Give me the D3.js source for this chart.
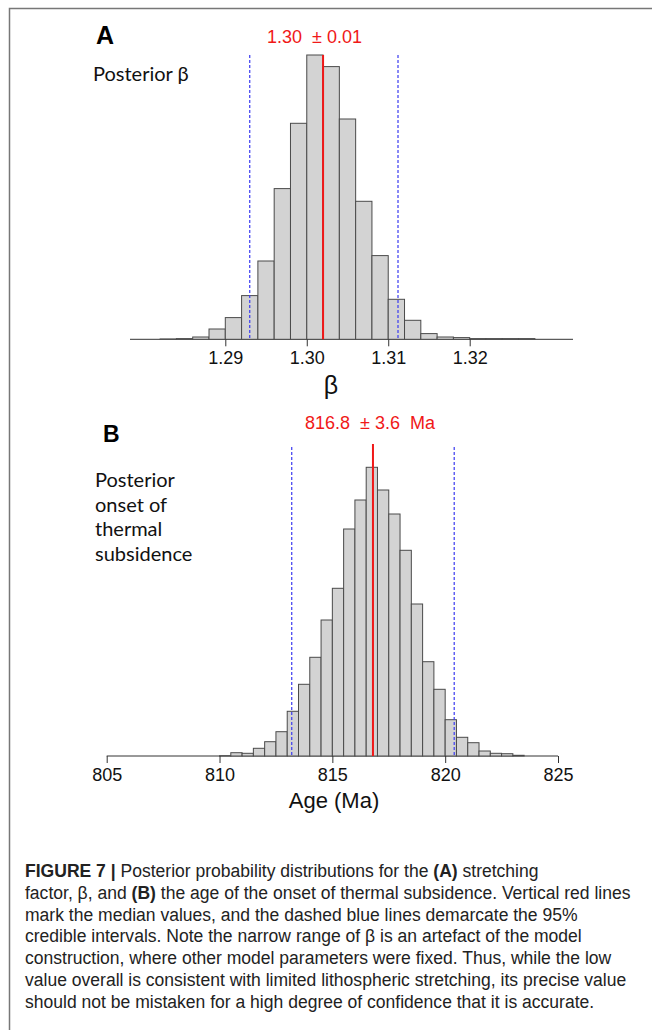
<!DOCTYPE html>
<html><head><meta charset="utf-8">
<script src="https://cdn.jsdelivr.net/npm/d3@7"></script>
<style>html,body{margin:0;padding:0;background:#fff}svg{display:block}</style>
</head><body>
<script>
// ---------- DATA ----------
// Panel A: posterior of stretching factor beta (bin start, width 0.002)
const betaBinStart = [1.282,1.284,1.286,1.288,1.290,1.292,1.294,1.296,1.298,1.300,1.302,1.304,1.306,1.308,1.310,1.312,1.314,1.316,1.318,1.320,1.322,1.324,1.326];
const betaCounts   = [3,7,23,103,217,437,783,1507,2160,2843,2727,2203,1380,837,400,190,57,23,17,7,7,7,7];
const betaBinWidth = 0.002;
const betaTicks = [1.29,1.30,1.31,1.32];
const betaMedian = 1.302;
const betaCI = [1.293,1.3112];
const betaTitle = "1.30  \u00B1 0.01";

// Panel B: posterior onset of thermal subsidence (Ma), bin width 0.5
const ageBinStart = [810.0,810.5,811.0,811.5,812.0,812.5,813.0,813.5,814.0,814.5,815.0,815.5,816.0,816.5,817.0,817.5,818.0,818.5,819.0,819.5,820.0,820.5,821.0,821.5,822.0,822.5,823.0];
const ageCounts   = [3,33,27,77,143,243,447,717,987,1360,1677,2270,2560,2887,2660,2420,2057,1520,943,667,363,187,133,50,27,23,7];
const ageBinWidth = 0.5;
const ageTicks = [805,810,815,820,825];
const ageMedian = 816.8;
const ageCI = [813.2,820.4];
const ageTitle = "816.8  \u00B1 3.6  Ma";

const captionLines = [
  [["FIGURE 7 | ",true],["Posterior probability distributions for the ",false],["(A)",true],[" stretching",false]],
  [["factor, \u03B2, and ",false],["(B)",true],[" the age of the onset of thermal subsidence. Vertical red lines",false]],
  [["mark the median values, and the dashed blue lines demarcate the 95%",false]],
  [["credible intervals. Note the narrow range of \u03B2 is an artefact of the model",false]],
  [["construction, where other model parameters were fixed. Thus, while the low",false]],
  [["value overall is consistent with limited lithospheric stretching, its precise value",false]],
  [["should not be mistaken for a high degree of confidence that it is accurate.",false]]
];

// ---------- DRAW ----------
const W = 652, H = 1030;
const svg = d3.select("body").append("svg").attr("width", W).attr("height", H);
const SANS = "'Liberation Sans', Arial, Helvetica, sans-serif";
const HUM = "Lato, 'Open Sans', sans-serif";

// frame
svg.append("path").attr("d", `M9.5,${H} L9.5,8.5 L${W},8.5`)
  .attr("fill","none").attr("stroke","#777").attr("stroke-width",1.5);

function panel(o) {
  const x = d3.scaleLinear().domain(o.xDomain).range(o.xRange);
  const y = d3.scaleLinear().domain([0, d3.max(o.counts)]).range([o.base, o.top]);
  const g = svg.append("g");
  // axis line
  g.append("line").attr("x1", o.axisX[0]).attr("x2", o.axisX[1])
    .attr("y1", o.base).attr("y2", o.base).attr("stroke","#333").attr("stroke-width",1);
  // bars
  g.selectAll("rect.bar").data(o.starts).join("rect").attr("class","bar")
    .attr("x", d => x(d)).attr("width", d => x(d + o.bw) - x(d))
    .attr("y", (d,i) => y(o.counts[i])).attr("height", (d,i) => o.base - y(o.counts[i]))
    .attr("fill","#d3d3d3").attr("stroke","#4a4a4a").attr("stroke-width",1);
  // ticks
  const ax = g.append("g").attr("transform", `translate(0,${o.base})`)
    .call(d3.axisBottom(x).tickValues(o.ticks).tickSize(7).tickPadding(5)
      .tickFormat(o.fmt));
  ax.select(".domain").remove();
  ax.selectAll(".tick line").attr("stroke","#333");
  ax.selectAll(".tick text").attr("font-family",SANS).attr("font-size",o.tickFont).attr("fill","#111");
  // CI dashed lines
  g.selectAll("line.ci").data(o.ci).join("line").attr("class","ci")
    .attr("x1", d => x(d)).attr("x2", d => x(d))
    .attr("y1", o.lineTop + o.ciOffset).attr("y2", o.base)
    .attr("stroke","#3a3af0").attr("stroke-width",1.2).attr("stroke-dasharray","3,2");
  // median
  g.append("line").attr("x1", x(o.median)).attr("x2", x(o.median))
    .attr("y1", o.lineTop).attr("y2", o.base).attr("stroke","#f01818").attr("stroke-width",2);
  return {x, y, g};
}

// Panel A
panel({
  starts: betaBinStart, counts: betaCounts, bw: betaBinWidth,
  xDomain: [1.29, 1.32], xRange: [225.3, 469.7],
  base: 339.3, top: 55, axisX: [130, 573],
  ticks: betaTicks, fmt: d3.format(".2f"), tickFont: "18px",
  ci: betaCI, median: betaMedian, lineTop: 55, ciOffset: 0
});
svg.append("text").attr("x", 96).attr("y", 44).text("A")
  .attr("font-family",SANS).attr("font-weight","bold").attr("font-size","25px").attr("fill","#000");
svg.append("text").attr("x", 267).attr("y", 43).text(betaTitle)
  .style("white-space","pre")
  .attr("font-family",SANS).attr("font-size","18px").attr("fill","#f01818");
svg.append("text").attr("x", 93).attr("y", 81).text("Posterior \u03B2")
  .attr("font-family",HUM).attr("font-size","20px").attr("fill","#111");
svg.append("text").attr("x", 331).attr("y", 394).attr("text-anchor","middle").text("\u03B2")
  .attr("font-family",SANS).attr("font-size","25px").attr("fill","#111");

// Panel B
panel({
  starts: ageBinStart, counts: ageCounts, bw: ageBinWidth,
  xDomain: [805, 825], xRange: [106.7, 558],
  base: 756, top: 467.3, axisX: [106.7, 558],
  ticks: ageTicks, fmt: d3.format("d"), tickFont: "18px",
  ci: ageCI, median: ageMedian, lineTop: 444, ciOffset: 3
});
svg.append("text").attr("x", 103).attr("y", 442).text("B")
  .attr("font-family",SANS).attr("font-weight","bold").attr("font-size","23px").attr("fill","#000");
svg.append("text").attr("x", 305).attr("y", 429).text(ageTitle)
  .style("white-space","pre")
  .attr("font-family",SANS).attr("font-size","18px").attr("fill","#f01818");
["Posterior","onset of","thermal","subsidence"].forEach((t,i) => {
  svg.append("text").attr("x", 95).attr("y", 487 + i*24.7).text(t)
    .attr("font-family",HUM).attr("font-size","20px").attr("fill","#111");
});
svg.append("text").attr("x", 334).attr("y", 808).attr("text-anchor","middle").text("Age (Ma)")
  .attr("font-family",SANS).attr("font-size","22px").attr("fill","#111");

// Caption
const capG = svg.append("g");
captionLines.forEach((line,i) => {
  const t = capG.append("text").attr("x", 25).attr("y", 877 + i*21.8)
    .attr("font-family",SANS).attr("font-size","15px").attr("fill","#222")
    .style("white-space","pre");
  line.forEach(([s,b]) => t.append("tspan").text(s).attr("font-weight", b ? "bold" : "normal"));
});
// fit caption width to reference (line 6 spans ~602px)
const w6 = capG.selectAll("text").nodes()[5].getComputedTextLength();
const fs = 15 * 602 / w6;
capG.selectAll("text").attr("font-size", fs.toFixed(2) + "px");
</script>
</body></html>
